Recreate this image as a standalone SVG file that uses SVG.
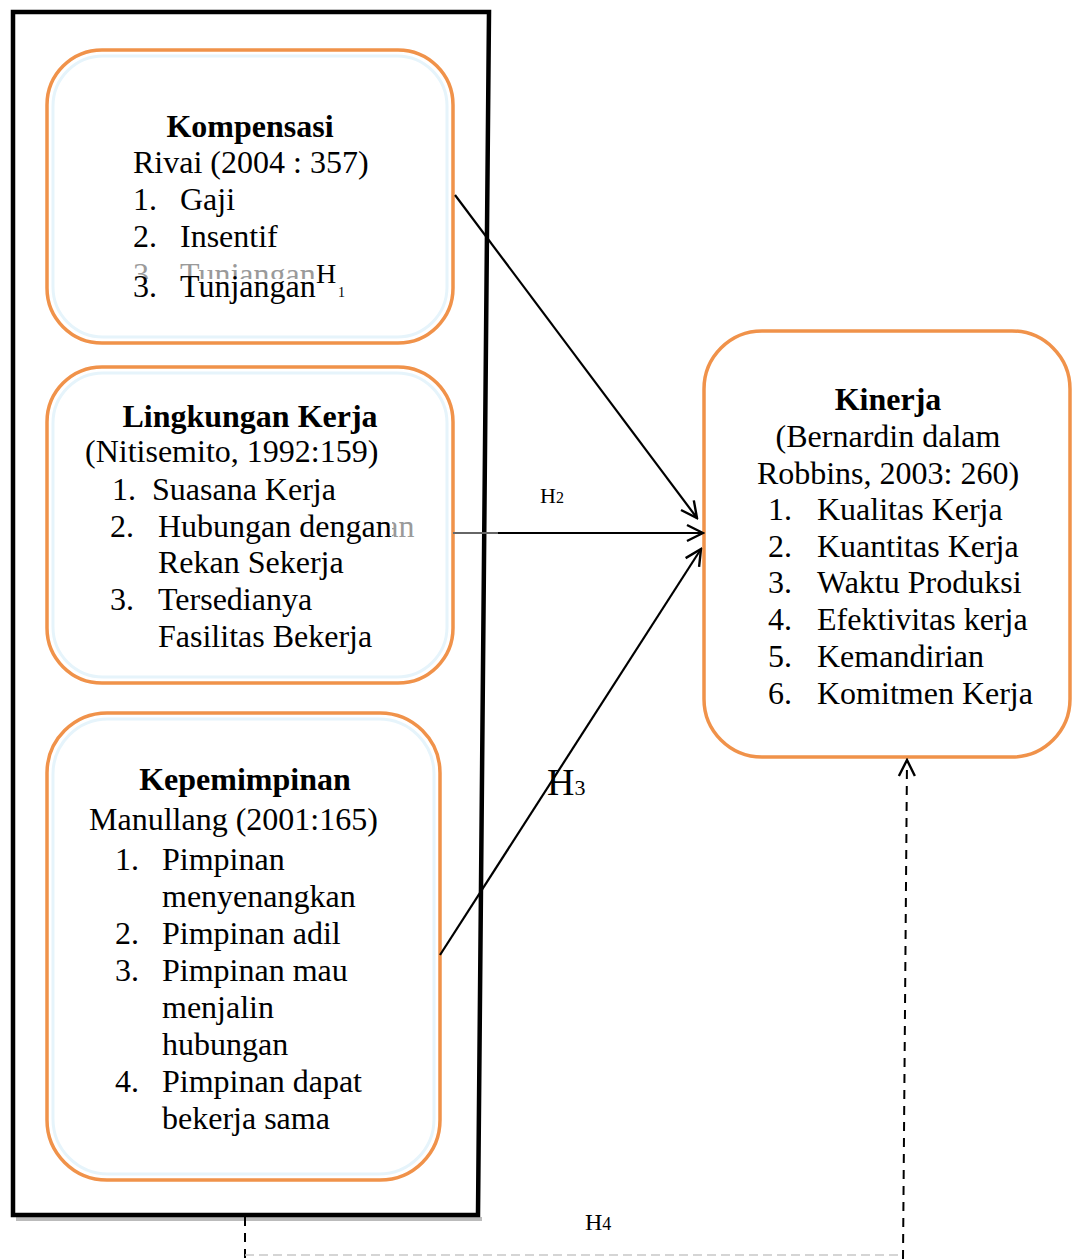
<svg xmlns="http://www.w3.org/2000/svg" width="1072" height="1259" viewBox="0 0 1072 1259">
<style>
  text { font-family: "Liberation Serif", "Times New Roman", serif; fill: #000; }
  .t { font-size: 32px; }
  .b { font-size: 32px; font-weight: bold; }
  .g { font-size: 32px; fill: #9a9a9a; }
  .box { fill: #fff; stroke: #f0924a; stroke-width: 3.5; }
  .glow { fill: none; stroke: #e6f4fb; stroke-width: 3; }
  .ln { stroke: #000; stroke-width: 2.2; fill: none; }
  .dash { stroke: #000; stroke-width: 2; fill: none; stroke-dasharray: 9 7; }
</style>
<defs>
  <marker id="arr" viewBox="0 0 20 20" refX="18" refY="10" markerWidth="20" markerHeight="20" markerUnits="userSpaceOnUse" orient="auto">
    <path d="M2,2 L18,10 L2,18" fill="none" stroke="#000" stroke-width="2.4"/>
  </marker>
  <clipPath id="ghostclip"><rect x="100" y="255" width="250" height="24"/></clipPath>
  <clipPath id="ghostclip2"><rect x="392" y="500" width="40" height="50"/></clipPath>
</defs>
<rect width="1072" height="1259" fill="#fff"/>

<g id="outer-frame">
  <path d="M16,1219 L482,1219" stroke="#bbb" stroke-width="4" fill="none"/>
  <path d="M13,12 L489,12 L478,1215 L13,1215 Z" fill="none" stroke="#000" stroke-width="4.5"/>
</g>

<g id="node-kompensasi">
  <rect x="47" y="50" width="406" height="293" rx="55" class="box"/>
  <rect x="53" y="56" width="394" height="281" rx="50" class="glow"/>
  <text class="b" x="250" y="137" text-anchor="middle">Kompensasi</text>
  <text class="t" x="133" y="173">Rivai (2004 : 357)</text>
  <text class="t" x="133" y="210">1.</text><text class="t" x="180" y="210">Gaji</text>
  <text class="t" x="133" y="247">2.</text><text class="t" x="180" y="247">Insentif</text>
  <g clip-path="url(#ghostclip)">
    <text class="g" x="133" y="285">3.</text><text class="g" x="180" y="285">Tunjangan</text>
  </g>
  <text class="t" x="133" y="297">3.</text><text class="t" x="180" y="297">Tunjangan</text>
  <text x="316" y="283" font-size="28">H</text>
  <text x="338" y="297" font-size="14">1</text>
</g>

<g id="node-lingkungan">
  <rect x="47" y="367" width="406" height="316" rx="55" class="box"/>
  <rect x="53" y="373" width="394" height="304" rx="50" class="glow"/>
  <text class="b" x="250" y="427" text-anchor="middle">Lingkungan Kerja</text>
  <text class="t" x="85" y="462">(Nitisemito, 1992:159)</text>
  <text class="t" x="112" y="500">1.</text><text class="t" x="152" y="500">Suasana Kerja</text>
  <g clip-path="url(#ghostclip2)"><text class="g" x="322" y="537">dengan</text></g>
  <text class="t" x="110" y="537">2.</text><text class="t" x="158" y="537">Hubungan dengan</text>
  <text class="t" x="158" y="573">Rekan Sekerja</text>
  <text class="t" x="110" y="610">3.</text><text class="t" x="158" y="610">Tersedianya</text>
  <text class="t" x="158" y="647">Fasilitas Bekerja</text>
</g>

<g id="node-kepemimpinan">
  <rect x="47" y="713" width="393" height="467" rx="60" class="box"/>
  <rect x="53" y="719" width="381" height="455" rx="55" class="glow"/>
  <text class="b" x="245" y="790" text-anchor="middle">Kepemimpinan</text>
  <text class="t" x="89" y="830">Manullang (2001:165)</text>
  <text class="t" x="115" y="870">1.</text><text class="t" x="162" y="870">Pimpinan</text>
  <text class="t" x="162" y="907">menyenangkan</text>
  <text class="t" x="115" y="944">2.</text><text class="t" x="162" y="944">Pimpinan adil</text>
  <text class="t" x="115" y="981">3.</text><text class="t" x="162" y="981">Pimpinan mau</text>
  <text class="t" x="162" y="1018">menjalin</text>
  <text class="t" x="162" y="1055">hubungan</text>
  <text class="t" x="115" y="1092">4.</text><text class="t" x="162" y="1092">Pimpinan dapat</text>
  <text class="t" x="162" y="1129">bekerja sama</text>
</g>

<g id="node-kinerja">
  <rect x="704" y="331" width="366" height="426" rx="58" class="box" stroke-width="4.5"/>
  <text class="b" x="888" y="410" text-anchor="middle">Kinerja</text>
  <text class="t" x="888" y="447" text-anchor="middle">(Bernardin dalam</text>
  <text class="t" x="888" y="484" text-anchor="middle">Robbins, 2003: 260)</text>
  <text class="t" x="768" y="520">1.</text><text class="t" x="817" y="520">Kualitas Kerja</text>
  <text class="t" x="768" y="557">2.</text><text class="t" x="817" y="557">Kuantitas Kerja</text>
  <text class="t" x="768" y="593">3.</text><text class="t" x="817" y="593">Waktu Produksi</text>
  <text class="t" x="768" y="630">4.</text><text class="t" x="817" y="630">Efektivitas kerja</text>
  <text class="t" x="768" y="667">5.</text><text class="t" x="817" y="667">Kemandirian</text>
  <text class="t" x="768" y="704">6.</text><text class="t" x="817" y="704">Komitmen Kerja</text>
</g>

<g id="connectors">
  <path class="ln" d="M455,195 L697,518" marker-end="url(#arr)"/>
  <path d="M453,533 L500,533" stroke="#666" stroke-width="2.2"/>
  <path class="ln" d="M498,533 L703,533" marker-end="url(#arr)"/>
  <path class="ln" d="M440,955 L701,549" marker-end="url(#arr)"/>
  <path class="dash" d="M245,1217 L245,1259"/>
  <path d="M245,1255 L903,1255" stroke="#c8c8c8" stroke-width="1.5" stroke-dasharray="9 5" fill="none"/>
  <path class="dash" d="M903,1259 L907,760" marker-end="url(#arr)"/>
  <text x="540" y="503" font-size="22">H<tspan font-size="16">2</tspan></text>
  <text x="547" y="795" font-size="38">H<tspan font-size="22">3</tspan></text>
  <text x="585" y="1230" font-size="24">H<tspan font-size="18">4</tspan></text>
</g>
</svg>
